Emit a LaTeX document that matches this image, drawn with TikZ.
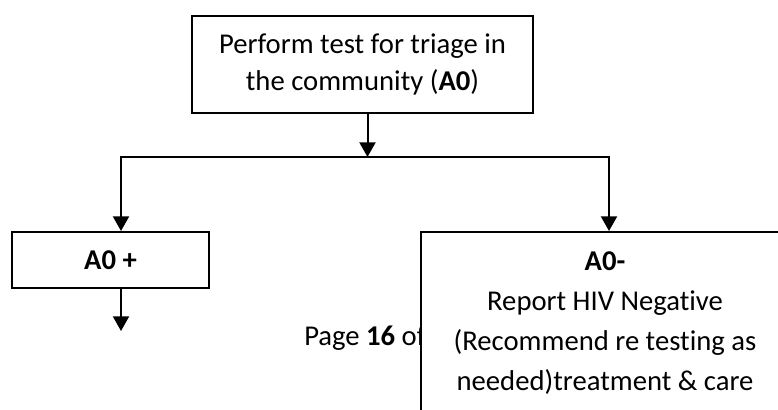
\documentclass[tikz,border=0pt]{standalone}
\usepackage{fontspec}
\setmainfont{Carlito}[Ligatures=NoCommon]
\usetikzlibrary{arrows.meta}

\tikzset{
  flowbox/.style={draw=black,line width=1.5pt,fill=white,align=center,inner sep=0pt},
  flowline/.style={line width=1.5pt,line cap=rect},
  flowarrow/.style={line width=1.5pt,-{Triangle[width=12pt,length=11pt]}}
}

\begin{document}
\begin{tikzpicture}[x=0.75pt,y=-0.75pt]
  \useasboundingbox (0,0) rectangle (778,410);
  \clip (0,0) rectangle (778,410);

  %A0 test
  \node[flowbox,minimum width=255.75pt,minimum height=72.75pt,
        font=\fontsize{21.5}{28}\selectfont] (test) at (362.5,64.5)
        {Perform test for triage in\\the community (\textbf{A0})};

  %split
  \coordinate (split) at (367.5,157);
  \coordinate (splitL) at (121,157);
  \coordinate (splitR) at (609,157);

  %A0 +
  \node[flowbox,minimum width=147.75pt,minimum height=42pt,
        font=\fontsize{21.5}{28}\selectfont\bfseries] (pos) at (110.5,260) {A0 +};
  \coordinate (posout) at (121,331);

  %page
  \node[anchor=base west,inner sep=0pt,font=\fontsize{21.5}{28}\selectfont] (page) at (304,345)
        {Page \textbf{16} of};

  %A0-
  \node[flowbox,minimum width=276pt,minimum height=136.5pt,
        font=\fontsize{21.5}{30}\selectfont] (neg) at (605,323)
        {\textbf{A0-}\\Report HIV Negative\\(Recommend re testing as\\needed)treatment \& care};

  \draw[flowarrow] (test.south -| split) -- (split);
  \draw[flowline] (splitL) -- (splitR);
  \draw[flowarrow] (splitL) -- (splitL |- pos.north);
  \draw[flowarrow] (splitR) -- (splitR |- neg.north);
  \draw[flowarrow] (pos.south -| posout) -- (posout);

\end{tikzpicture}
\end{document}
